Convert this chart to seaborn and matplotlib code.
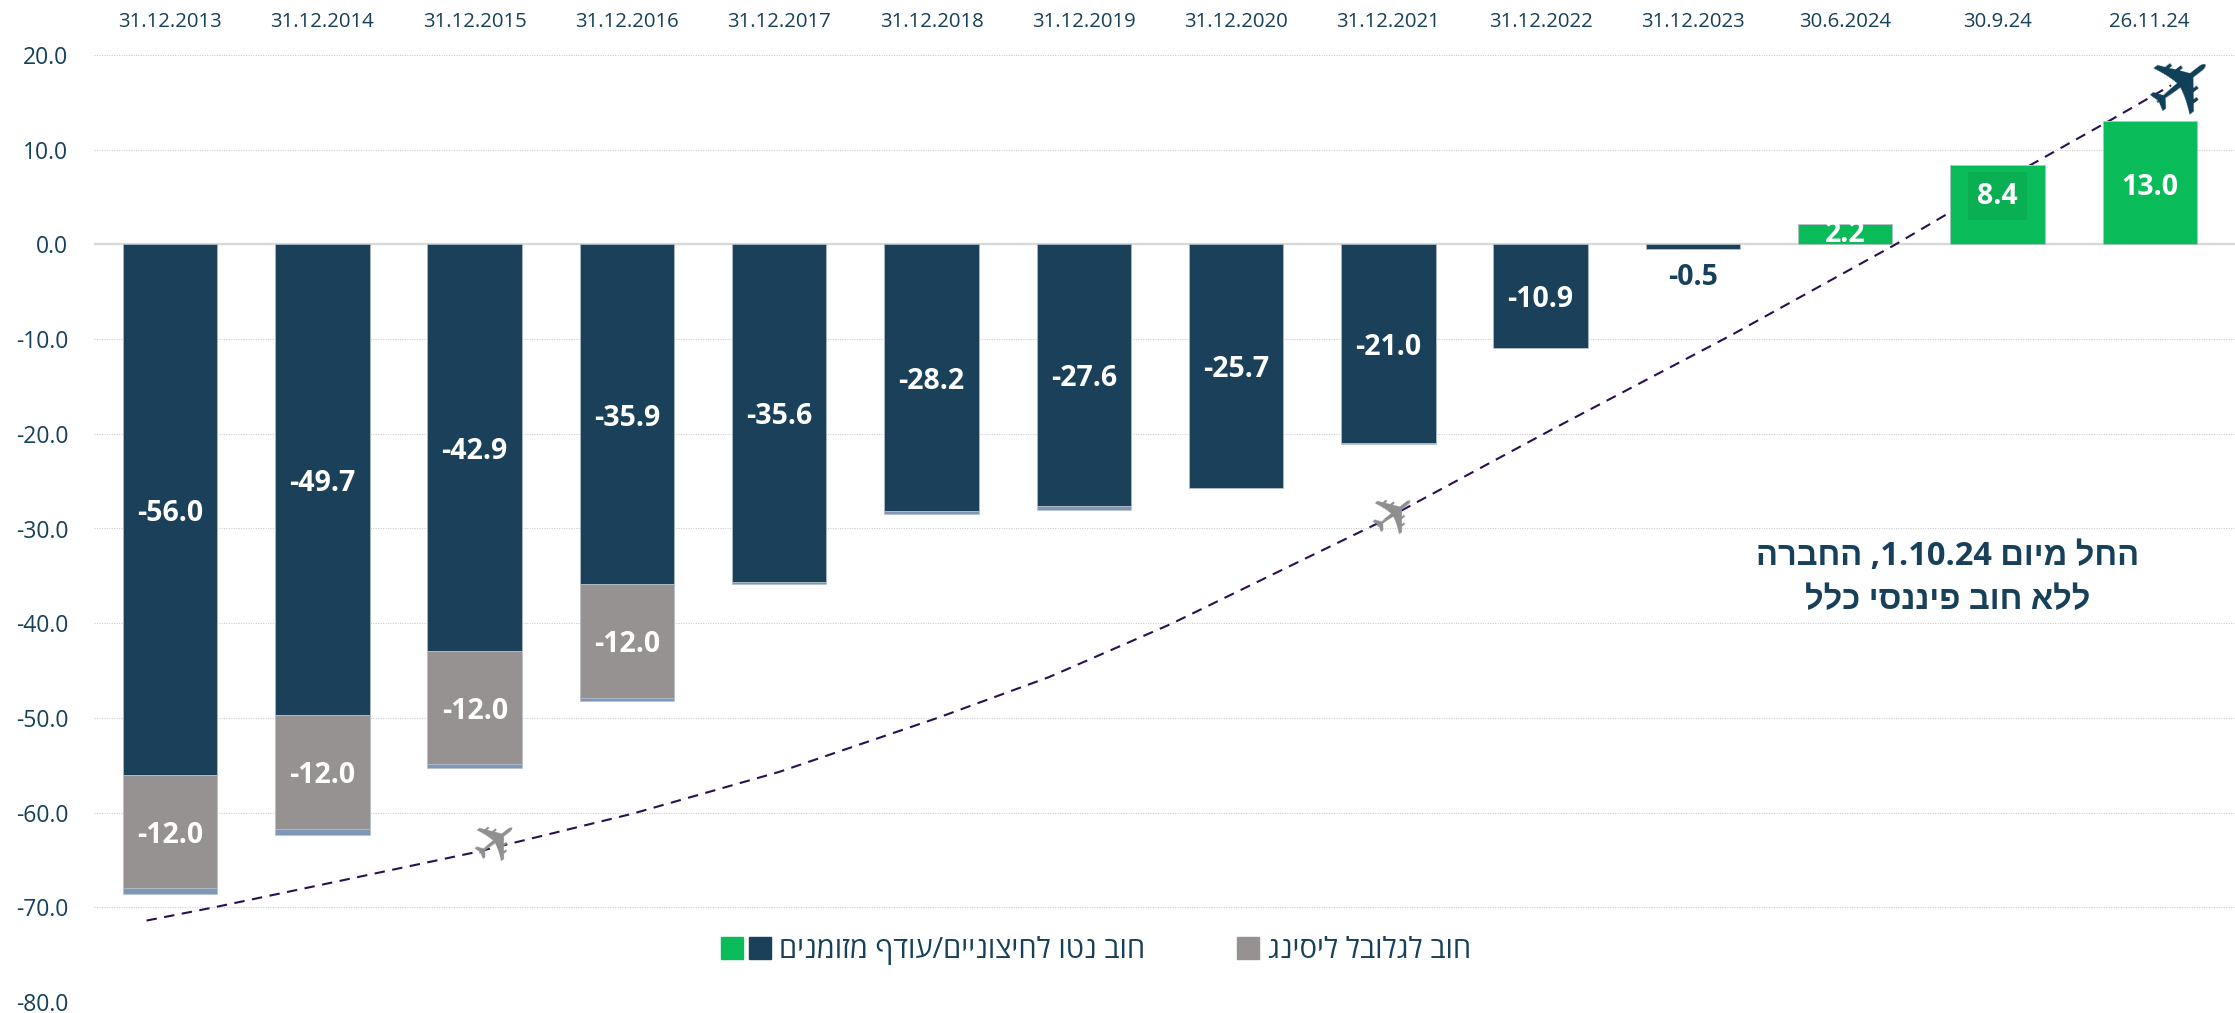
import matplotlib
matplotlib.use("Agg")
import matplotlib.pyplot as plt
import seaborn as sns
import pandas as pd
from matplotlib.patches import Patch
from matplotlib.legend_handler import HandlerTuple

dates = ["31.12.2013", "31.12.2014", "31.12.2015", "31.12.2016", "31.12.2017", "31.12.2018", "31.12.2019",
         "31.12.2020", "31.12.2021", "31.12.2022", "31.12.2023", "30.6.2024", "30.9.24", "26.11.24"]
net_debt = [-56.0, -49.7, -42.9, -35.9, -35.6, -28.2, -27.6, -25.7, -21.0, -10.9, -0.5, 2.2, 8.4, 13.0]
leasing = [-12.0, -12.0, -12.0, -12.0, 0, 0, 0, 0, 0, 0, 0, 0, 0, 0]
other = [-0.6, -0.65, -0.35, -0.3, -0.3, -0.3, -0.45, 0, -0.1, 0, 0, 0, 0, 0]

# עקומה מקווקווה - נקראה מהתמונה
curve_x = [-0.155, 0.29, 1.0, 2.0, 3.04, 4.0, 5.04, 5.77, 6.57, 7.95, 8.19, 9.08, 10.25, 11.32, 11.7, 12.23, 12.74, 13.14]
curve_y = [-71.4, -70.0, -67.6, -64.2, -60.1, -55.7, -50.0, -45.7, -40.1, -29.3, -27.2, -19.5, -9.6, -0.1, 3.5, 8.5, 13.1, 16.8]

plane_x = [2.15, 8.05, 13.23]
plane_y = [-63.1, -28.6, 16.7]
plane_size = [42, 42, 62]
plane_color = ["#8f8f8f", "#8f8f8f", "#0f3f58"]

DARK = "#1A4159"
GREEN = "#0ABB5A"
GRAY = "#969292"
BLUE = "#7F96B5"
TEXT = "#17405A"
EDGE = "#b4c0c8"

sns.set_theme(style="white")
plt.rcParams["font.family"] = ["Open Sans", "Liberation Sans", "DejaVu Sans"]


def rtl(s):
    # matplotlib לא הופך עברית בעצמו
    return s[::-1]


df = pd.DataFrame({"date": dates, "net": net_debt, "leasing": leasing, "other": other})
df["sign"] = ["pos" if v > 0 else "neg" for v in df["net"]]
df["bottom2"] = df["net"] + df["leasing"]

fig = plt.figure(figsize=(22.35, 10.13), dpi=100)
ax = fig.add_axes([94 / 2235, 1 - 1002 / 1013, (2235 - 94) / 2235, (1002 - 55) / 1013])

bar_kw = dict(width=0.62, saturation=1, edgecolor=EDGE, linewidth=0.5, zorder=3, order=dates, ax=ax)
sns.barplot(data=df, x="date", y="net", hue="sign", palette={"pos": GREEN, "neg": DARK}, dodge=False,
            legend=False, **bar_kw)
sns.barplot(data=df, x="date", y="leasing", bottom=df["net"], color=GRAY, **bar_kw)
sns.barplot(data=df, x="date", y="other", bottom=df["bottom2"], color=BLUE, **bar_kw)

ax.set_xlim(-0.5, 13.56)
ax.set_ylim(-80, 20)
ax.set_xlabel("")
ax.set_ylabel("")
ax.set_yticks(range(-80, 21, 10))
ax.set_yticklabels([f"{v:.1f}" for v in range(-80, 21, 10)], fontsize=16.5, color=TEXT)
ax.xaxis.tick_top()
ax.set_xticks(range(len(dates)))
ax.set_xticklabels(dates, fontsize=14.7, color=TEXT)
ax.tick_params(axis="x", length=0, pad=16.5)
ax.tick_params(axis="y", length=0, pad=18.5)
ax.grid(axis="y", color="#cccccc", linestyle=(0, (1, 1.2)), linewidth=0.8)
ax.set_axisbelow(True)
for s in ax.spines.values():
    s.set_visible(False)
ax.axhline(0, color="#d8d8d8", linewidth=1.6, zorder=2)

ax.plot(curve_x, curve_y, color="#2A1052", linewidth=1.5, linestyle=(0, (5, 3.6)), zorder=2.5)

for x, y, size, col in zip(plane_x, plane_y, plane_size, plane_color):
    ax.text(x, y, "\u2708", fontsize=size, rotation=38, color=col, ha="center", va="center",
            family="DejaVu Sans", zorder=4)

# תוויות ערכים
VALUE_SIZE = 20.5
for i, v in enumerate(net_debt):
    if v == -0.5:
        ax.text(i, -3.5, f"{v:.1f}", color=TEXT, fontsize=VALUE_SIZE, fontweight="bold", ha="center", va="center", zorder=5)
    elif v == 2.2:
        t = ax.text(i, 1.0, f"{v:.1f}", color="white", fontsize=VALUE_SIZE, fontweight="bold", ha="center", va="center", zorder=5)
        bar = [p for p in ax.patches if abs(p.get_height() - 2.2) < 1e-6][0]
        t.set_clip_path(bar)
    elif v == 8.4:
        ax.text(i, 5.1, f"{v:.1f}", color="white", fontsize=VALUE_SIZE, fontweight="bold", ha="center", va="center", zorder=5,
                bbox=dict(facecolor="#09AF52", edgecolor="none", pad=6.5))
    else:
        ax.text(i, v / 2 - 0.4 if v < 0 else 6.0, f"{v:.1f}", color="white", fontsize=VALUE_SIZE, fontweight="bold",
                ha="center", va="center", zorder=5)
    if leasing[i] != 0:
        ax.text(i, v + leasing[i] / 2 - 0.4, f"{leasing[i]:.1f}", color="white", fontsize=VALUE_SIZE, fontweight="bold",
                ha="center", va="center", zorder=5)

note1 = rtl("החברה") + " ,1.10.24 " + rtl("החל מיום")
note2 = rtl("ללא חוב פיננסי כלל")
ax.text(11.67, -33, note1, color=TEXT, fontsize=23.5, fontweight="bold", ha="center", va="center")
ax.text(11.67, -37.6, note2, color=TEXT, fontsize=23.5, fontweight="bold", ha="center", va="center")

# ריבוע ריק כדי שהאפור יהיה באותו גודל
handles = [(Patch(color=GREEN), Patch(color=DARK)), (Patch(color="none"), Patch(color=GRAY))]
labels = [rtl("חוב נטו לחיצוניים/עודף מזומנים"), rtl("חוב לגלובל ליסינג")]
ax.legend(handles, labels, handler_map={tuple: HandlerTuple(ndivide=None, pad=0.2)}, ncols=2, frameon=False,
          loc="center", bbox_to_anchor=(0.468, 0.054), fontsize=21, labelcolor=TEXT, columnspacing=2.2,
          handlelength=1.7, handleheight=0.8, handletextpad=0.3)

fig.savefig("out.png", dpi=100)
